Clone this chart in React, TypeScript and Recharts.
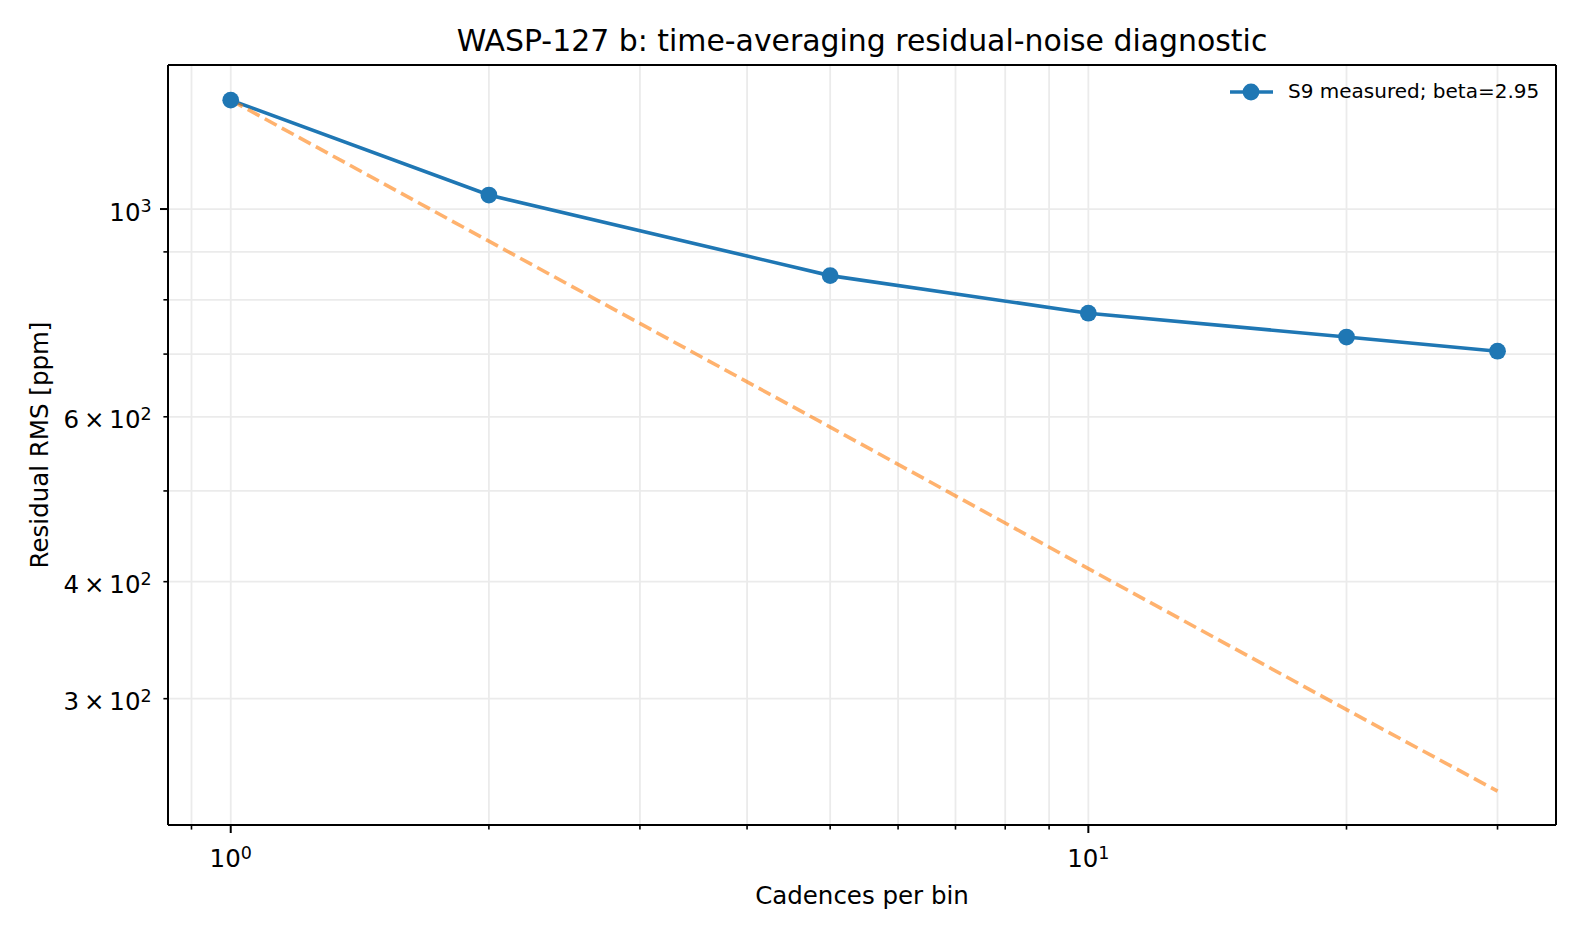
import React from 'react';
import { LineChart, Line, XAxis, YAxis, CartesianGrid, Legend } from 'recharts';

// values (log-log)
const cadences = [1, 2, 5, 10, 20, 30];
const measuredRms = [1307, 1035, 849, 774, 730, 705];
const whiteNoiseRms = [1307, 924, 585, 413, 292, 239];

const xTicks = [0.9, 1, 2, 3, 4, 5, 6, 7, 8, 9, 10, 20, 30];
const xExponents: Record<number, string> = { 1: '0', 10: '1' };
const yTicks = [300, 400, 500, 600, 700, 800, 900, 1000];
const yTickLabels: Record<number, [string, string]> = {
  300: ['3\u2009\u00d7\u200910', '2'],
  400: ['4\u2009\u00d7\u200910', '2'],
  600: ['6\u2009\u00d7\u200910', '2'],
  1000: ['10', '3'],
};

const title = 'WASP-127 b: time-averaging residual-noise diagnostic';
const xLabel = 'Cadences per bin';
const yLabel = 'Residual RMS [ppm]';
const legendLabel = 'S9 measured; beta=2.95';

const data = cadences.map((n, i) => ({ n, measured: measuredRms[i], white: whiteNoiseRms[i] }));

const FONT = '"DejaVu Sans", sans-serif';
const BLUE = '#1f77b4';
const ORANGE = '#ff7f0e';
const X_DOMAIN: [number, number] = [0.845, 35.1];
const Y_DOMAIN: [number, number] = [219.9, 1425];

function XTick(props: any) {
  const { x, y, payload } = props;
  const exp = xExponents[payload.value];
  const major = exp !== undefined;
  return (
    <g>
      <line x1={x} x2={x} y1={y} y2={y + (major ? 8 : 4.6)} stroke="#000" strokeWidth={major ? 2 : 1.6} />
      {major && (
        <text x={x} y={y + 42} textAnchor="middle" fontFamily={FONT} fontSize={24.5} fill="#000">
          10
          <tspan dy={-8.5} fontSize={17.5}>{exp}</tspan>
        </text>
      )}
    </g>
  );
}

function YTick(props: any) {
  const { x, y, payload } = props;
  const lab = yTickLabels[payload.value];
  const major = payload.value === 1000;
  return (
    <g>
      <line x1={x} x2={x - (major ? 8 : 4.6)} y1={y} y2={y} stroke="#000" strokeWidth={major ? 2 : 1.6} />
      {lab && (
        <text x={x - 16.3} y={y + 11.6} textAnchor="end" fontFamily={FONT} fontSize={24.5} fill="#000">
          {lab[0]}
          <tspan dy={-8.5} fontSize={17.5}>{lab[1]}</tspan>
        </text>
      )}
    </g>
  );
}

const renderLegend = () => (
  <div
    style={{
      position: 'relative',
      height: 30,
      width: 330,
      fontFamily: FONT,
      fontSize: 20,
      lineHeight: '30px',
      color: '#000',
      whiteSpace: 'nowrap',
    }}
  >
    <svg width={44} height={30} style={{ position: 'absolute', left: 0, top: 0 }}>
      <line x1={0} x2={43} y1={16} y2={16} stroke={BLUE} strokeWidth={3.6} />
      <circle cx={21} cy={16} r={8.4} fill={BLUE} />
    </svg>
    <span style={{ position: 'absolute', left: 58, top: 0 }}>{legendLabel}</span>
  </div>
);

export default function App() {
  return (
    <div style={{ position: 'absolute', left: 0, top: 0, width: 1584, height: 936, background: '#fff', fontFamily: FONT }}>
      <LineChart width={1584} height={936} data={data} margin={{ top: 64, right: 27, left: 0, bottom: 0 }}>
        <CartesianGrid stroke="#ebebeb" strokeWidth={1.8} />
        <XAxis
          dataKey="n"
          type="number"
          scale="log"
          domain={X_DOMAIN}
          allowDataOverflow
          ticks={xTicks}
          interval={0}
          height={111}
          tickSize={0}
          tickMargin={0}
          tick={<XTick />}
          axisLine={{ stroke: '#000', strokeWidth: 2 }}
        />
        {/* mirrored axes only draw the top and right spines */}
        <XAxis
          xAxisId="top"
          dataKey="n"
          orientation="top"
          type="number"
          scale="log"
          domain={X_DOMAIN}
          allowDataOverflow
          height={1}
          tick={false}
          tickLine={false}
          axisLine={{ stroke: '#000', strokeWidth: 2 }}
        />
        <YAxis
          type="number"
          scale="log"
          domain={Y_DOMAIN}
          allowDataOverflow
          ticks={yTicks}
          interval={0}
          width={168}
          tickSize={0}
          tickMargin={0}
          tick={<YTick />}
          axisLine={{ stroke: '#000', strokeWidth: 2 }}
        />
        <YAxis
          yAxisId="right"
          orientation="right"
          type="number"
          scale="log"
          domain={Y_DOMAIN}
          allowDataOverflow
          width={1}
          tick={false}
          tickLine={false}
          axisLine={{ stroke: '#000', strokeWidth: 2 }}
        />
        <Legend
          layout="horizontal"
          verticalAlign="middle"
          align="center"
          content={renderLegend}
          wrapperStyle={{ position: 'absolute', left: 1230, top: 76, width: 330, height: 30 }}
        />
        <Line
          type="linear"
          dataKey="measured"
          name={legendLabel}
          stroke={BLUE}
          strokeWidth={3.6}
          dot={{ r: 8.4, fill: BLUE, stroke: BLUE, strokeWidth: 0 }}
          activeDot={false}
          isAnimationActive={false}
        />
        <Line
          xAxisId="top"
          yAxisId="right"
          type="linear"
          dataKey="white"
          legendType="none"
          stroke={ORANGE}
          strokeOpacity={0.6}
          strokeWidth={3.6}
          strokeDasharray="13.5 5.9"
          dot={false}
          activeDot={false}
          isAnimationActive={false}
        />
      </LineChart>
      <svg width={1584} height={936} style={{ position: 'absolute', left: 0, top: 0, pointerEvents: 'none' }}>
        <text x={862} y={51} textAnchor="middle" fontFamily={FONT} fontSize={29.9} fill="#000">
          {title}
        </text>
        <text x={862} y={904} textAnchor="middle" fontFamily={FONT} fontSize={24.5} fill="#000">
          {xLabel}
        </text>
        <text
          x={48}
          y={445}
          textAnchor="middle"
          fontFamily={FONT}
          fontSize={24.5}
          fill="#000"
          transform="rotate(-90, 48, 445)"
        >
          {yLabel}
        </text>
      </svg>
    </div>
  );
}
